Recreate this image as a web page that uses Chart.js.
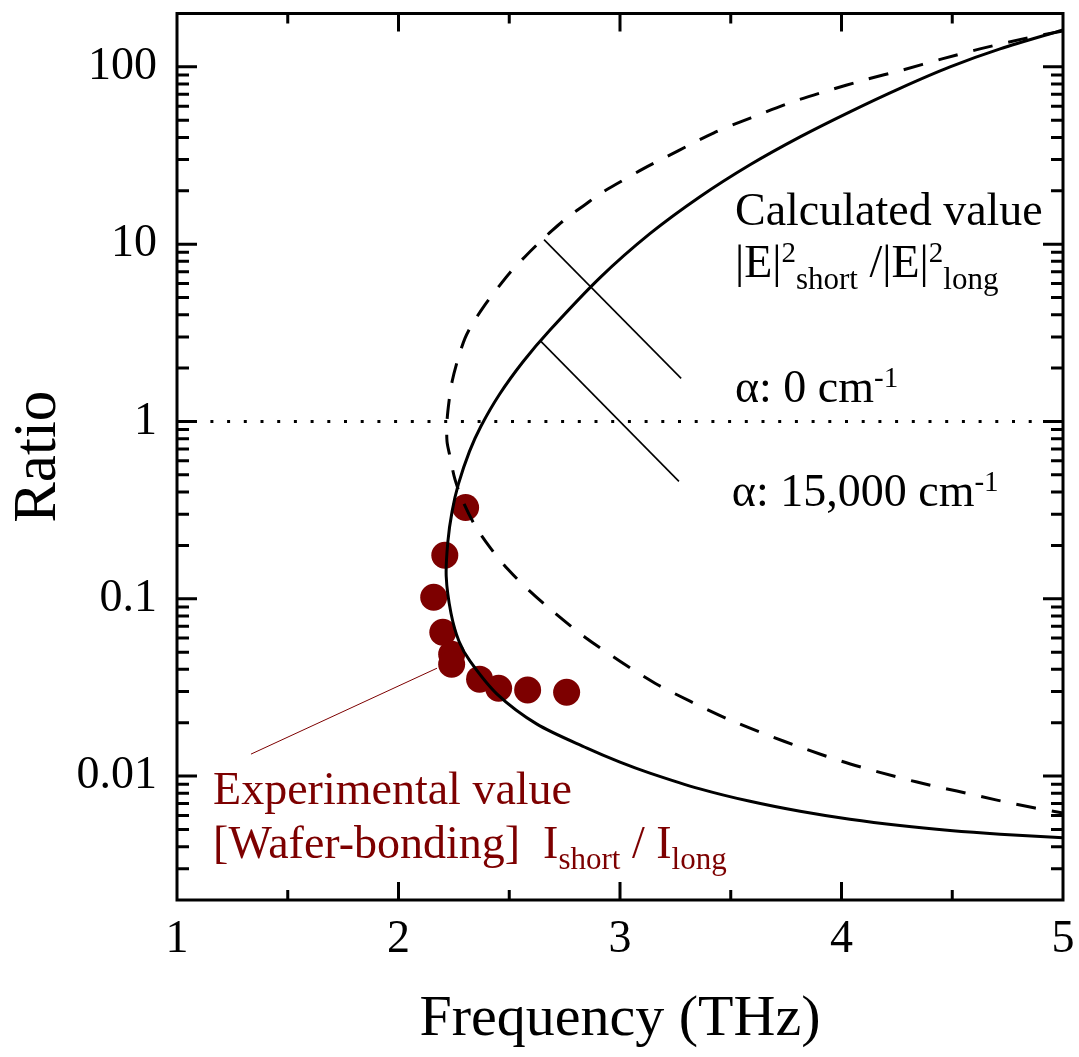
<!DOCTYPE html>
<html><head><meta charset="utf-8">
<script src="https://cdn.jsdelivr.net/npm/chart.js@4.4.1/dist/chart.umd.min.js"></script>
<style>html,body{margin:0;padding:0;background:#fff;}#wrap{width:1079px;height:1057px;}</style>
</head><body><div id="wrap"><canvas id="c" width="1079" height="1057"></canvas></div>
<script>
// ---- data ----
const xTickValues = [1, 2, 3, 4, 5];
const xTickLabels = ['1', '2', '3', '4', '5'];
const yTickValues = [0.01, 0.1, 1, 10, 100];
const yTickLabels = ['0.01', '0.1', '1', '10', '100'];

// calculated, alpha = 15,000 cm-1 (solid)
const solidFreq  = [5.0, 4.716, 4.490, 4.264, 4.038, 3.813, 3.587, 3.361, 3.135, 2.910, 2.684, 2.563, 2.4555, 2.3716, 2.3205, 2.270, 2.242, 2.223, 2.2154, 2.237, 2.273, 2.323, 2.445, 2.625, 2.851, 3.0, 3.135, 3.361, 3.587, 3.813, 4.038, 4.264, 4.490, 4.716, 5.0];
const solidRatio = [161.6, 126.3, 100, 75.7, 55.8, 40.3, 28.05, 18.52, 11.46, 6.477, 3.278, 2.178, 1.419, 0.937, 0.678, 0.4417, 0.3112, 0.2108, 0.1339, 0.0829, 0.0576, 0.04445, 0.02897, 0.01963, 0.01438, 0.01199, 0.01040, 0.00847, 0.007203, 0.006326, 0.005703, 0.005255, 0.004932, 0.004700, 0.004484];

// calculated, alpha = 0 cm-1 (dashed)
const dashedFreq  = [5.0, 4.819, 4.625, 4.454, 4.278, 4.106, 3.935, 3.767, 3.591, 3.424, 3.262, 3.104, 2.986, 2.910, 2.842, 2.761, 2.693, 2.630, 2.571, 2.503, 2.449, 2.391, 2.332, 2.300, 2.269, 2.242, 2.228, 2.219, 2.219, 2.2325, 2.255, 2.291, 2.345, 2.413, 2.494, 2.594, 2.707, 2.842, 3.0, 3.158, 3.316, 3.488, 3.655, 3.826, 3.998, 4.169, 4.341, 4.521, 4.702, 4.874, 5.0];
const dashedRatio = [159.5, 143.8, 126.3, 110.9, 96.2, 84.5, 73.2, 62.7, 51.6, 42.5, 33.6, 26.6, 21.9, 19.26, 16.69, 14.10, 11.92, 10.06, 8.50, 6.91, 5.69, 4.56, 3.52, 2.94, 2.264, 1.680, 1.296, 1.0, 0.772, 0.635, 0.471, 0.354, 0.2595, 0.1950, 0.1466, 0.1102, 0.0829, 0.0607, 0.04445, 0.0334, 0.02645, 0.02095, 0.01724, 0.01438, 0.01215, 0.01053, 0.00925, 0.00823, 0.00732, 0.00660, 0.00619];

// experimental (wafer bonding)
const expFreq  = [2.303, 2.209, 2.159, 2.200, 2.240, 2.240, 2.366, 2.452, 2.583, 2.759];
const expRatio = [0.327, 0.176, 0.102, 0.0647, 0.0487, 0.0427, 0.0352, 0.0313, 0.0306, 0.0297];

// reference line ratio = 1
const unityFreq  = [1, 5];
const unityRatio = [1, 1];

// leader lines (data coordinates)
const lead0Freq   = [2.657, 3.276];  const lead0Ratio   = [10.6, 1.75];
const lead15kFreq = [2.643, 3.266];  const lead15kRatio = [2.83, 0.459];
const leadExpFreq = [1.334, 2.174];  const leadExpRatio = [0.0133, 0.0406];

// ---- helpers ----
const pts = (xs, ys) => xs.map((x, i) => ({x: x, y: ys[i]}));
const SERIF = "'Liberation Serif','Times New Roman',Times,serif";
const RED = '#7d0000';

// text annotations: anchor in data coords, segments [text, size, dy]
const notes = [
  {f: 3.519, r: 12.88, color: '#000', segs: [['Calculated value', 46, 0]]},
  {f: 3.519, r: 6.56, color: '#000', segs: [['|E|', 46, 0], ['2', 29, -15], ['short', 31, 12], [' /|E|', 46, 0], ['2', 29, -15], ['long', 31, 12]]},
  {f: 3.519, r: 1.296, color: '#000', segs: [['\u03b1: 0 cm', 46, 0], ['-1', 29, -15]]},
  {f: 3.505, r: 0.332, color: '#000', segs: [['\u03b1: 15,000 cm', 46, 0], ['-1', 29, -15]]},
  {f: 1.163, r: 0.00696, color: RED, segs: [['Experimental value', 46, 0]]},
  {f: 1.163, r: 0.00345, color: RED, segs: [['[Wafer-bonding]  I', 46, 0], ['short', 31, 11], [' / I', 46, 0], ['long', 31, 11]]}
];

const framePlugin = {
  id: 'frame',
  afterDatasetsDraw(chart) {
    const {ctx, chartArea: a, scales: {x, y}} = chart;
    ctx.save();
    ctx.strokeStyle = '#000';
    ctx.lineWidth = 3;
    ctx.beginPath();
    for (let k = 2; k <= 9; k++) {
      const v = k / 2;
      if (v <= 1 || v >= 5) continue;
      const px = x.getPixelForValue(v);
      const L = (k % 2 === 0) ? 18 : 10;
      ctx.moveTo(px, a.bottom); ctx.lineTo(px, a.bottom - L);
      ctx.moveTo(px, a.top); ctx.lineTo(px, a.top + L);
    }
    for (let d = -3; d <= 2; d++) {
      for (let m = 1; m <= 9; m++) {
        const v = m * Math.pow(10, d);
        if (v <= 0.002 * 1.0001 || v >= 200 * 0.9999) continue;
        const py = y.getPixelForValue(v);
        const L = (m === 1) ? 20 : 12;
        ctx.moveTo(a.left, py); ctx.lineTo(a.left + L, py);
        ctx.moveTo(a.right, py); ctx.lineTo(a.right - L, py);
      }
    }
    ctx.stroke();
    ctx.strokeRect(a.left, a.top, a.right - a.left, a.bottom - a.top);
    ctx.restore();
  },
  afterDraw(chart) {
    const {ctx, scales: {x, y}} = chart;
    ctx.save();
    ctx.textBaseline = 'alphabetic';
    ctx.textAlign = 'left';
    notes.forEach(n => {
      let px = x.getPixelForValue(n.f);
      const py = y.getPixelForValue(n.r);
      ctx.fillStyle = n.color;
      n.segs.forEach(([t, size, dy]) => {
        ctx.font = size + 'px ' + SERIF;
        ctx.fillText(t, px, py + dy);
        px += ctx.measureText(t).width;
      });
    });
    ctx.restore();
  }
};

new Chart(document.getElementById('c'), {
  type: 'line',
  data: {
    datasets: [
      {label: 'alpha 15000', data: pts(solidFreq, solidRatio), borderColor: '#000', borderWidth: 3, pointRadius: 0, tension: 0.3, fill: false},
      {label: 'alpha 0', data: pts(dashedFreq, dashedRatio), borderColor: '#000', borderWidth: 3, borderDash: [20, 16], pointRadius: 0, tension: 0.3, fill: false},
      {label: 'unity', data: pts(unityFreq, unityRatio), borderColor: '#000', borderWidth: 3, borderDash: [3, 13.7], pointRadius: 0, tension: 0, fill: false},
      {label: 'lead0', data: pts(lead0Freq, lead0Ratio), borderColor: '#000', borderWidth: 1.6, pointRadius: 0, tension: 0},
      {label: 'lead15k', data: pts(lead15kFreq, lead15kRatio), borderColor: '#000', borderWidth: 1.6, pointRadius: 0, tension: 0},
      {label: 'leadExp', data: pts(leadExpFreq, leadExpRatio), borderColor: RED, borderWidth: 1, pointRadius: 0, tension: 0},
      {label: 'Experimental', data: pts(expFreq, expRatio), showLine: false, backgroundColor: RED, borderColor: RED, borderWidth: 0, pointRadius: 13.5, pointHoverRadius: 13.5}
    ]
  },
  options: {
    responsive: false,
    animation: false,
    devicePixelRatio: 1,
    layout: {padding: {top: 12, right: 16, left: 0, bottom: 0}},
    plugins: {legend: {display: false}, tooltip: {enabled: false}},
    scales: {
      x: {
        type: 'linear', min: 1, max: 5,
        grid: {display: false, drawTicks: false},
        border: {display: false},
        afterBuildTicks: s => { s.ticks = xTickValues.map(v => ({value: v})); },
        afterFit: s => { s.height = 157; s.paddingLeft = 0; s.paddingRight = 0; },
        ticks: {
          autoSkip: false, maxRotation: 0, padding: 12, color: '#000',
          font: {family: SERIF, size: 46},
          callback: v => xTickLabels[xTickValues.indexOf(v)]
        },
        title: {display: true, text: 'Frequency (THz)', color: '#000', font: {family: SERIF, size: 58}, padding: {top: 0, bottom: 2}}
      },
      y: {
        type: 'logarithmic', min: 0.002, max: 200,
        grid: {display: false, drawTicks: false},
        border: {display: false},
        afterBuildTicks: s => { s.ticks = yTickValues.map(v => ({value: v})); },
        afterFit: s => { s.width = 177; s.paddingTop = 0; s.paddingBottom = 0; },
        ticks: {
          autoSkip: false, padding: 20, color: '#000',
          font: {family: SERIF, size: 46},
          callback: v => yTickLabels[yTickValues.indexOf(v)]
        },
        title: {display: true, text: 'Ratio', color: '#000', font: {family: SERIF, size: 61}, padding: {top: 2, bottom: 0}}
      }
    }
  },
  plugins: [framePlugin]
});
</script>
</body></html>
